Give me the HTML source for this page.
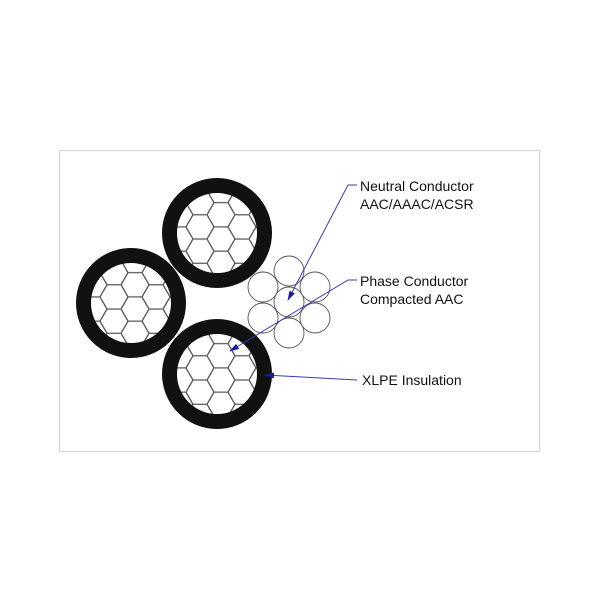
<!DOCTYPE html>
<html><head><meta charset="utf-8"><style>html,body{margin:0;padding:0;background:#fff;width:600px;height:600px;overflow:hidden}</style></head>
<body>
<svg width="600" height="600" viewBox="0 0 600 600" xmlns="http://www.w3.org/2000/svg">
<defs>
<pattern id="h1" patternUnits="userSpaceOnUse" x="207" y="226.9" width="42" height="24.25">
<path d="M7,0 L21,0 L28,12.12 L21,24.25 L7,24.25 L0,12.12 Z M28,12.12 L42,12.12" fill="none" stroke="#555" stroke-width="1.3"/></pattern>
<pattern id="h2" patternUnits="userSpaceOnUse" x="121" y="296.9" width="42" height="24.25">
<path d="M7,0 L21,0 L28,12.12 L21,24.25 L7,24.25 L0,12.12 Z M28,12.12 L42,12.12" fill="none" stroke="#555" stroke-width="1.3"/></pattern>
<pattern id="h3" patternUnits="userSpaceOnUse" x="207" y="367.9" width="42" height="24.25">
<path d="M7,0 L21,0 L28,12.12 L21,24.25 L7,24.25 L0,12.12 Z M28,12.12 L42,12.12" fill="none" stroke="#555" stroke-width="1.3"/></pattern>
<marker id="ar" markerWidth="10" markerHeight="6" refX="9" refY="3" orient="auto" markerUnits="userSpaceOnUse"><path d="M0,0 L10,3 L0,6 Z" fill="#1a1aa0"/></marker>
</defs>
<rect x="59.5" y="150.5" width="480" height="301" fill="#fff" stroke="#d4d4d4" stroke-width="1"/>
<g>
<circle cx="217" cy="233" r="47.5" fill="url(#h1)" stroke="#111" stroke-width="15"/>
<circle cx="131" cy="303" r="47.5" fill="url(#h2)" stroke="#111" stroke-width="15"/>
<circle cx="217" cy="374" r="47.5" fill="url(#h3)" stroke="#111" stroke-width="15"/>
</g>
<g fill="#fff" stroke="#555" stroke-width="0.9">
<circle cx="289" cy="302" r="15"/>
<circle cx="289" cy="271" r="15"/>
<circle cx="289" cy="333" r="15"/>
<circle cx="263" cy="287" r="15"/>
<circle cx="315" cy="287" r="15"/>
<circle cx="263" cy="318" r="15"/>
<circle cx="315" cy="318" r="15"/>
</g>
<g stroke="#3a3ab8" stroke-width="1" fill="none">
<path d="M357,185 L348,185 L288,300" marker-end="url(#ar)"/>
<path d="M357,280 L348,280 L230,351" marker-end="url(#ar)"/>
<path d="M357,380 L265,375" marker-end="url(#ar)"/>
</g>
<g font-family="Liberation Sans, sans-serif" font-size="14" fill="#111">
<text x="360" y="191">Neutral Conductor</text>
<text x="360" y="209">AAC/AAAC/ACSR</text>
<text x="360" y="286">Phase Conductor</text>
<text x="360" y="304">Compacted AAC</text>
<text x="362" y="385">XLPE Insulation</text>
</g>
</svg>
</body></html>
